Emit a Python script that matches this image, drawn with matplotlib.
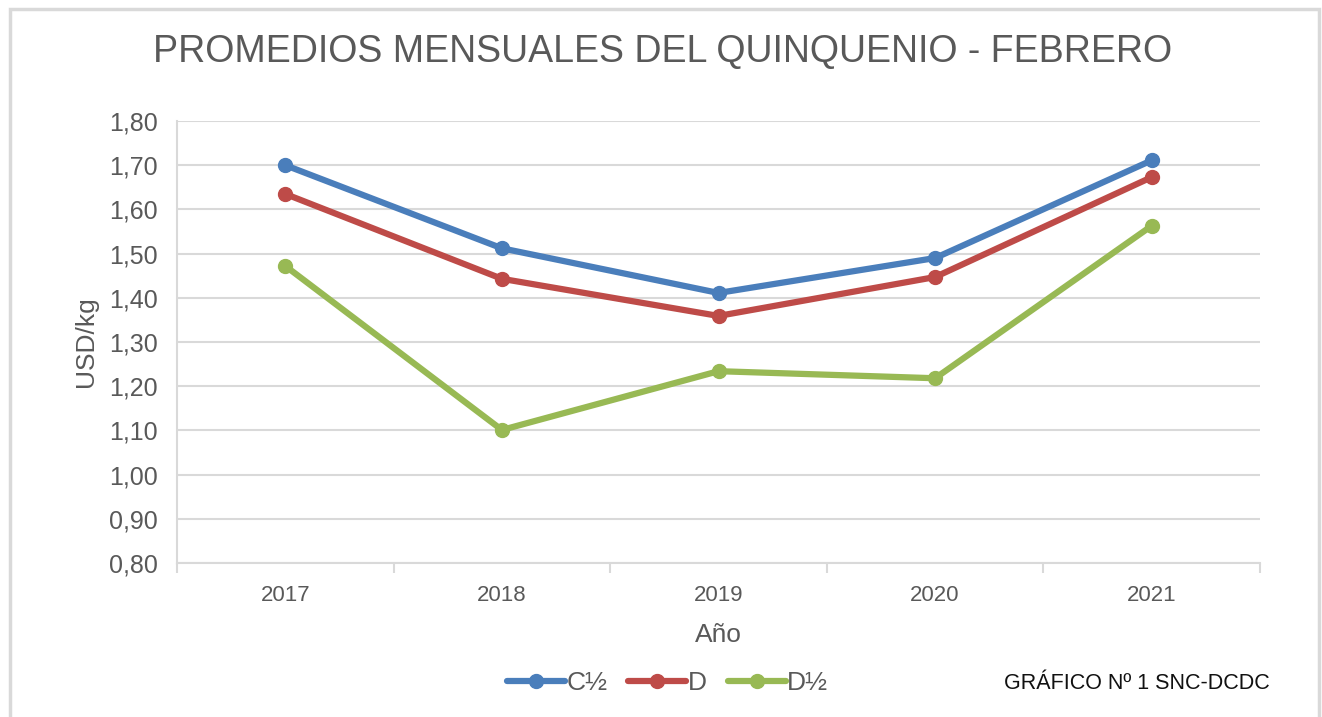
import matplotlib.pyplot as plt
from matplotlib.patches import Rectangle

plt.rcParams['font.family'] = ['Liberation Sans', 'DejaVu Sans']

years = ['2017', '2018', '2019', '2020', '2021']
c_medio = [1.70, 1.512, 1.411, 1.490, 1.711]
d_vals = [1.635, 1.443, 1.359, 1.447, 1.673]
d_medio = [1.472, 1.101, 1.234, 1.218, 1.563]
yticks = [0.8, 0.9, 1.0, 1.1, 1.2, 1.3, 1.4, 1.5, 1.6, 1.7, 1.8]

gray = '#595959'
fig = plt.figure(figsize=(13.22, 7.17), dpi=100)
ax = fig.add_axes([0.1339, 0.2148, 0.8192, 0.6164])

x = range(len(years))
ax.plot(x, c_medio, color='#4a7ebb', lw=4.5, marker='o', ms=10, label='C½', solid_capstyle='round')
ax.plot(x, d_vals, color='#be4b48', lw=4.5, marker='o', ms=10, label='D', solid_capstyle='round')
ax.plot(x, d_medio, color='#98b954', lw=4.5, marker='o', ms=10, label='D½', solid_capstyle='round')

ax.set_xlim(-0.5, len(years) - 0.5)
ax.set_ylim(0.8, 1.8)
ax.set_yticks(yticks)
ax.set_yticklabels([f'{v:.2f}'.replace('.', ',') for v in yticks])
ax.set_xticks(list(x))
ax.set_xticklabels(years)
ax.set_xticks([i - 0.5 for i in range(len(years) + 1)], minor=True)
ax.tick_params(axis='x', which='major', length=0, pad=16, labelsize=16, labelcolor=gray)
ax.tick_params(axis='x', which='minor', length=7, color='#d9d9d9', width=1.5)
ax.tick_params(axis='y', length=0, pad=14, labelsize=18, labelcolor=gray)
ax.grid(axis='y', color='#d9d9d9', lw=1.5)
ax.set_axisbelow(True)
for s in ['top', 'right']:
    ax.spines[s].set_visible(False)
for s in ['left', 'bottom']:
    ax.spines[s].set_color('#d9d9d9')
    ax.spines[s].set_linewidth(1.5)

ax.set_ylabel('USD/kg', fontsize=19, color=gray, labelpad=8)
ax.set_xlabel('Año', fontsize=19, color=gray, labelpad=12)

fig.text(0.5015, 0.928, 'PROMEDIOS MENSUALES DEL QUINQUENIO - FEBRERO',
         ha='center', va='center', fontsize=27, color=gray)

ax.legend(loc='center', bbox_to_anchor=(0.505, 0.047), bbox_transform=fig.transFigure,
          ncol=3, frameon=False, fontsize=19, handlelength=2.2, handletextpad=0.05,
          columnspacing=0.8, labelcolor=gray)

fig.text(0.9605, 0.047, 'GRÁFICO Nº 1 SNC-DCDC', ha='right', va='center', fontsize=15.5, color='#111111')

fig.patches.append(Rectangle((0.0075, -0.1), 0.9905, 1.088, transform=fig.transFigure,
                             fill=False, edgecolor='#d9d9d9', lw=2.5))

fig.savefig('out.png', dpi=100)
